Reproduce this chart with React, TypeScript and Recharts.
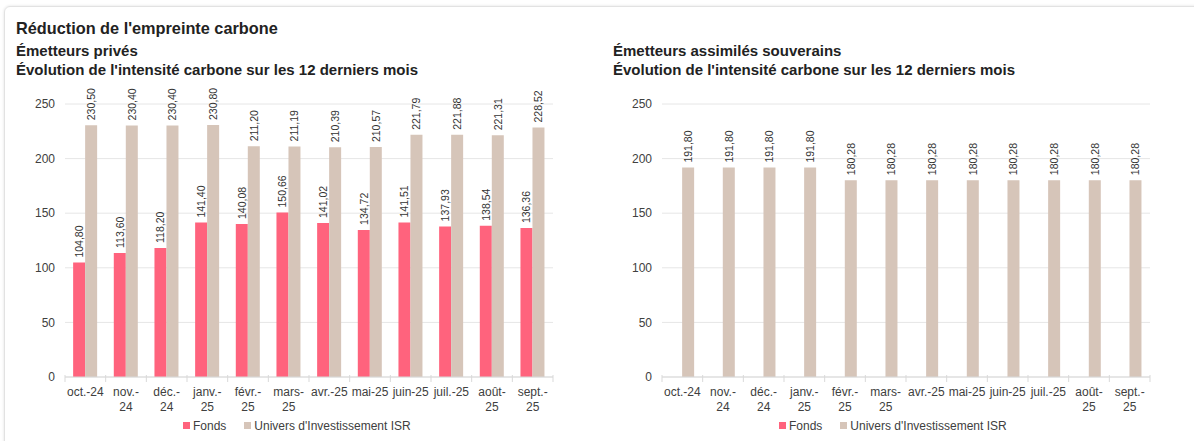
import { BarChart, Bar, XAxis, YAxis, CartesianGrid, Legend, LabelList } from "recharts";

const MONTHS = [
  "oct.-24", "nov.-\n24", "déc.-\n24", "janv.-\n25", "févr.-\n25", "mars-\n25",
  "avr.-25", "mai-25", "juin-25", "juil.-25", "août-\n25", "sept.-\n25",
];

const PRIVATE_FUND = [104.8, 113.6, 118.2, 141.4, 140.08, 150.66, 141.02, 134.72, 141.51, 137.93, 138.54, 136.36];
const PRIVATE_ISR = [230.5, 230.4, 230.4, 230.8, 211.2, 211.19, 210.39, 210.57, 221.79, 221.88, 221.31, 228.52];

const SOV_FUND: (number | null)[] = [null, null, null, null, null, null, null, null, null, null, null, null];
const SOV_ISR = [191.8, 191.8, 191.8, 191.8, 180.28, 180.28, 180.28, 180.28, 180.28, 180.28, 180.28, 180.28];

const Y_TICKS = [0, 50, 100, 150, 200, 250];

const FUND_COLOR = "#ff637d";
const ISR_COLOR = "#d6c5b9";
const TEXT = "#404040";
const FONT = "'Liberation Sans', Arial, sans-serif";

const CHART_W = 600;
const CHART_H = 441;
const MARGIN = { top: 104, right: 47, bottom: 24, left: 25 };
const Y_W = 40;
const BAND = (CHART_W - MARGIN.left - MARGIN.right - Y_W) / MONTHS.length;

const fmt = (v: number) => v.toFixed(2).replace(".", ",");

function MonthTick(props: any) {
  const { x, y, payload, index } = props;
  const lines = String(payload.value).split("\n");
  const axisY = y - 5;
  return (
    <g>
      <line x1={x - BAND / 2} x2={x - BAND / 2} y1={axisY - 2} y2={axisY + 5} stroke="#d9d9d9" />
      {index === MONTHS.length - 1 && (
        <line x1={x + BAND / 2} x2={x + BAND / 2} y1={axisY - 2} y2={axisY + 5} stroke="#d9d9d9" />
      )}
      <text x={x} y={axisY + 19} textAnchor="middle" fontSize={12} fill={TEXT} fontFamily={FONT}>
        {lines.map((l, i) => (
          <tspan key={i} x={x} dy={i === 0 ? 0 : 15}>{l}</tspan>
        ))}
      </text>
    </g>
  );
}

function ValueLabel(props: any) {
  const { x, y, width, value } = props;
  if (value == null) return null;
  const cx = x + width / 2;
  const cy = y - 5;
  return (
    <text
      x={cx}
      y={cy}
      transform={`rotate(-90 ${cx} ${cy})`}
      textAnchor="start"
      dominantBaseline="central"
      fontSize={10.5}
      fill="#333"
      fontFamily={FONT}
    >
      {fmt(Number(value))}
    </text>
  );
}

function LegendBox() {
  const item = (color: string, label: string) => (
    <span style={{ display: "inline-flex", alignItems: "center", marginRight: 18 }}>
      <span style={{ width: 7, height: 7, background: color, display: "inline-block", marginRight: 3 }} />
      <span>{label}</span>
    </span>
  );
  return (
    <div style={{ fontFamily: FONT, fontSize: 12, color: TEXT, whiteSpace: "nowrap" }}>
      {item(FUND_COLOR, "Fonds")}
      {item(ISR_COLOR, "Univers d'Investissement ISR")}
    </div>
  );
}

function CarbonChart({ fund, isr, legendLeft }: { fund: (number | null)[]; isr: number[]; legendLeft: number }) {
  const data = MONTHS.map((m, i) => ({ month: m, fund: fund[i], isr: isr[i] }));
  return (
    <BarChart width={CHART_W} height={CHART_H} data={data} margin={MARGIN} barCategoryGap="20%" barGap={0}>
      <CartesianGrid vertical={false} stroke="#e6e6e6" />
      <XAxis
        dataKey="month"
        axisLine={{ stroke: "#d9d9d9" }}
        tickLine={false}
        tickSize={5}
        tickMargin={0}
        height={40}
        interval={0}
        tick={<MonthTick />}
      />
      <YAxis
        domain={[0, 250]}
        ticks={Y_TICKS}
        width={Y_W}
        axisLine={false}
        tickLine={false}
        tickMargin={4}
        tick={{ fontSize: 12, fill: TEXT, fontFamily: FONT }}
      />
      <Legend
        layout="vertical"
        align="center"
        verticalAlign="middle"
        wrapperStyle={{ position: "absolute", left: legendLeft, top: 418, width: "auto" }}
        content={<LegendBox />}
      />
      <Bar dataKey="fund" name="Fonds" fill={FUND_COLOR} isAnimationActive={false}>
        <LabelList dataKey="fund" content={<ValueLabel />} />
      </Bar>
      <Bar dataKey="isr" name="Univers d'Investissement ISR" fill={ISR_COLOR} isAnimationActive={false}>
        <LabelList dataKey="isr" content={<ValueLabel />} />
      </Bar>
    </BarChart>
  );
}

export default function App() {
  const h2 = { position: "absolute" as const, fontFamily: FONT, fontWeight: 700, fontSize: 15, color: "#222", lineHeight: "19px" };
  return (
    <div style={{ position: "absolute", left: 0, top: 0, width: 1194, height: 441, overflow: "hidden", background: "#fff" }}>
      <div
        style={{
          position: "absolute", left: 4, top: 6, width: 1210, height: 460,
          border: "1px solid #e2e2e2", borderRadius: 6, boxShadow: "0 0 3px rgba(0,0,0,0.12)",
        }}
      />
      <div style={{ position: "absolute", left: 16, top: 19, fontFamily: FONT, fontWeight: 700, fontSize: 16.3, color: "#222", lineHeight: "19px" }}>
        Réduction de l'empreinte carbone
      </div>
      <div style={{ ...h2, left: 16, top: 41 }}>
        Émetteurs privés<br />Évolution de l'intensité carbone sur les 12 derniers mois
      </div>
      <div style={{ ...h2, left: 613, top: 41 }}>
        Émetteurs assimilés souverains<br />Évolution de l'intensité carbone sur les 12 derniers mois
      </div>
      <div style={{ position: "absolute", left: 0, top: 0 }}>
        <CarbonChart fund={PRIVATE_FUND} isr={PRIVATE_ISR} legendLeft={183} />
      </div>
      <div style={{ position: "absolute", left: 597, top: 0 }}>
        <CarbonChart fund={SOV_FUND} isr={SOV_ISR} legendLeft={182} />
      </div>
    </div>
  );
}
